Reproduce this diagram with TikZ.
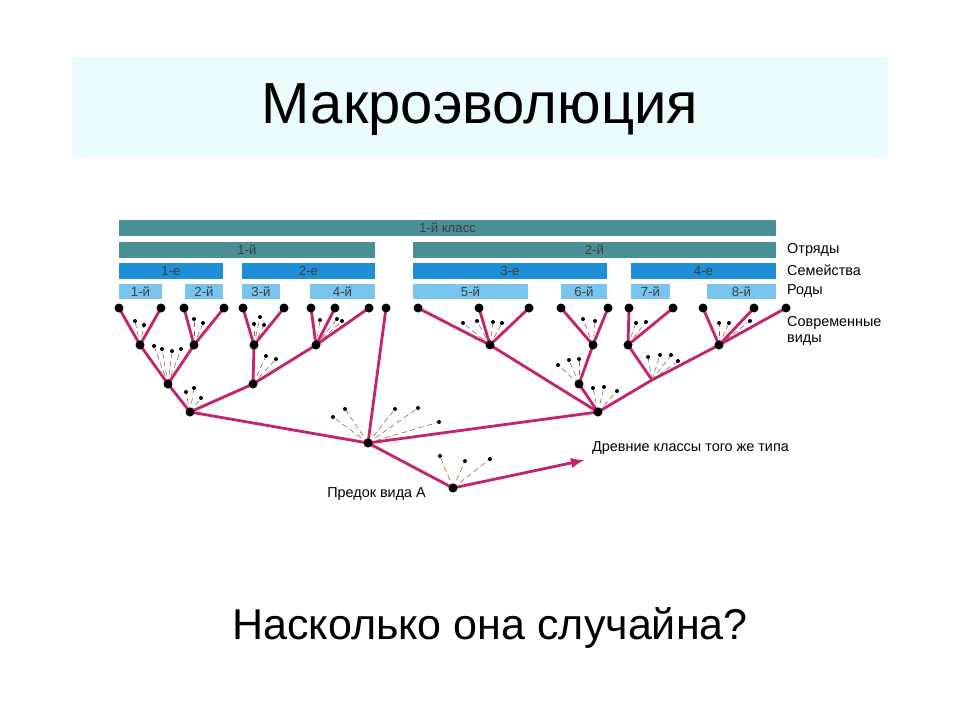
\documentclass[tikz,border=0pt]{standalone}
\usepackage{fontspec}
\setmainfont{Liberation Sans}
\usetikzlibrary{arrows.meta, positioning, backgrounds}
\definecolor{classteal}{HTML}{4A8F96}
\definecolor{famblue}{HTML}{1E8ED6}
\definecolor{genblue}{HTML}{78C4EC}
\definecolor{branch}{HTML}{C4236E}
\definecolor{twig}{HTML}{A0522D}
\definecolor{titlebg}{HTML}{EAFCFD}

\begin{document}
\begin{tikzpicture}[
    x=0.02cm, y=-0.02cm,
    bar/.style={rectangle, inner sep=0pt, font=\fontsize{7.5}{8}\selectfont, text=black!75},
    rank/.style={anchor=west, font=\fontsize{8.2}{9.5}\selectfont, align=left},
    sp/.style={circle, fill=black, inner sep=0pt, minimum size=0.18cm},
    tiny/.style={circle, fill=black, inner sep=0pt, minimum size=0.08cm},
    edge/.style={draw=branch, line width=1.6pt},
    tw/.style={draw=twig, densely dashed, line width=0.3pt}
]
\useasboundingbox (0,0) rectangle (960,720);

% Title
\fill[titlebg] (72,57) rectangle (888,157);
\node (title) at (480,110) {\fontsize{33}{40}\selectfont Макроэволюция};

% Rank bars
\newcommand{\rbar}[6]{\fill[#5] (#1,#3) rectangle (#2,#4);
  \node[bar] at ({(#1+#2)/2},{(#3+#4)/2}) {#6};}
\rbar{119}{776}{220}{236}{classteal}{1-й класс}
\rbar{119}{375}{242}{258}{classteal}{1-й}
\rbar{413}{776}{242}{258}{classteal}{2-й}
\rbar{119}{223}{263}{279}{famblue}{1-е}
\rbar{242}{375}{263}{279}{famblue}{2-е}
\rbar{413}{607}{263}{279}{famblue}{3-е}
\rbar{631}{776}{263}{279}{famblue}{4-е}
\rbar{119}{162}{284}{299}{genblue}{1-й}
\rbar{185}{223}{284}{299}{genblue}{2-й}
\rbar{242}{280}{284}{299}{genblue}{3-й}
\rbar{310}{375}{284}{299}{genblue}{4-й}
\rbar{413}{528}{284}{299}{genblue}{5-й}
\rbar{561}{607}{284}{299}{genblue}{6-й}
\rbar{631}{670}{284}{299}{genblue}{7-й}
\rbar{707}{776}{284}{299}{genblue}{8-й}

\node[rank] (orders) at (781,250) {Отряды};
\node[rank] (families) at (781,270) {Семейства};
\node[rank] (genera) at (781,291) {Роды};
\node[rank] (modern) at (781,331) {Современные\\виды};

% Twigs (extinct side branches)
\foreach \ax/\ay/\bx/\by in {
  140/345/135/321, 140/345/144/325, 194/345/194/319, 194/345/203/323,
  168/384/154/346, 168/384/162/349, 168/384/172/351, 168/384/181/349,
  254/345/260/317, 254/345/254/324, 254/345/264/325,
  316/345/320/320, 316/345/337/319, 316/345/342/321,
  253/384/266/356, 253/384/276/359,
  190/412/186/392, 190/412/194/388, 190/412/201/398,
  368/443/333/417, 368/443/345/409, 368/443/395/409, 368/443/418/408, 368/443/439/422,
  453/488/440/456, 453/488/465/461, 453/488/490/459,
  490/345/463/323, 490/345/477/321, 490/345/493/322, 490/345/502/323,
  593/345/583/319, 593/345/595/321, 628/345/636/323, 628/345/646/322,
  719/345/719/323, 719/345/729/323, 719/345/750/321,
  579/384/558/365, 579/384/569/360, 579/384/579/359,
  598/412/593/388, 598/412/604/387, 598/412/617/391,
  652/380/648/357, 652/380/660/355, 652/380/671/355, 652/380/678/361}
  {\draw[tw] (\ax,\ay) -- (\bx,\by); \node[tiny] at (\bx,\by) {};}

% Modern species
\foreach \n/\x in {1/119, 2/161, 3/184, 4/224, 5/243, 6/284, 7/311, 8/335, 9/369, 10/386,
  11/418, 12/479, 13/529, 14/561, 15/608, 16/629, 17/673, 18/703, 19/754, 20/786}
  \node[sp] (s\n) at (\x,308) {};

% Ancestors
\node[sp] (a1) at (140,345) {};
\node[sp] (a2) at (194,345) {};
\node[sp] (a3) at (254,345) {};
\node[sp] (a4) at (316,345) {};
\node[sp] (f1) at (168,384) {};
\node[sp] (f2) at (253,384) {};
\node[sp] (o1) at (190,412) {};
\node[sp] (a5) at (490,345) {};
\node[sp] (a6) at (593,345) {};
\node[sp] (a7) at (628,345) {};
\node[sp] (a8) at (719,345) {};
\node[sp] (f3) at (579,384) {};
\coordinate (f4) at (652,380);
\node[sp] (o2) at (598,412) {};
\node[sp] (root) at (368,443) {};
\node[sp] (anc) at (453,488) {};
\coordinate (ancient) at (585,460);

% Branches
\begin{pgfonlayer}{background}
\foreach \a/\b in {s1/a1, s2/a1, s3/a2, s4/a2, a1/f1, a2/f1, s5/a3, s6/a3,
  s7/a4, s8/a4, s9/a4, a3/f2, a4/f2, f1/o1, f2/o1, o1/root, s10/root,
  s11/a5, s12/a5, s13/a5, s14/a6, s15/a6, s16/a7, s17/a7, s18/a8, s19/a8,
  s20/a8, a6/f3, f3/o2, a5/o2, o2/f4, a7/f4, f4/a8, root/o2, root/anc}
  \draw[edge] (\a.center) -- (\b.center);
\draw[edge, -{Latex[length=8pt,width=6pt]}] (anc.center) -- (ancient);
\end{pgfonlayer}

\node[anchor=west, font=\fontsize{8.2}{9.5}\selectfont] (ancientlbl) at (586,448) {Древние классы того же типа};
\node[anchor=east, font=\fontsize{8.2}{9.5}\selectfont] (anclbl) at (432,494) {Предок вида А};

\node (question) at (490,628) {\fontsize{24.5}{30}\selectfont Насколько она случайна?};
\end{tikzpicture}
\end{document}
